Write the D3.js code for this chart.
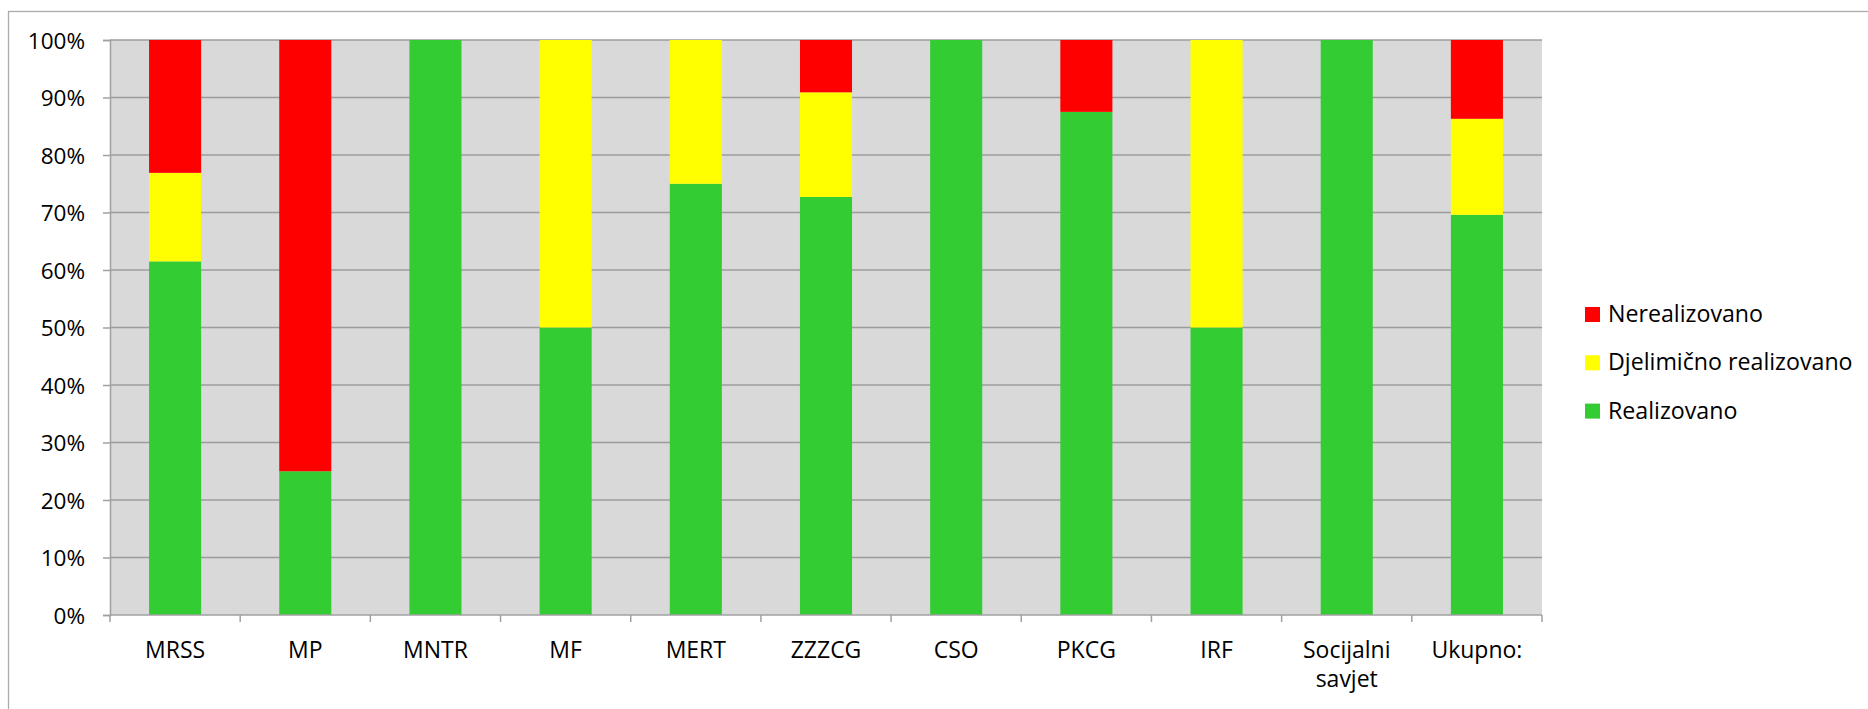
<!DOCTYPE html>
<html>
<head>
<meta charset="utf-8">
<script src="https://cdn.jsdelivr.net/npm/d3@7"></script>
<style>
  body { margin: 0; background: #fff; }
  svg { display: block; font-family: "Open Sans", "Noto Sans", sans-serif; }
</style>
</head>
<body>
<svg width="1868" height="709"></svg>
<script>
// Chart values (percent of measures per institution)
const categories = ["MRSS", "MP", "MNTR", "MF", "MERT", "ZZZCG", "CSO", "PKCG", "IRF", "Socijalni savjet", "Ukupno:"];
const realizovano = [61.5, 25, 100, 50, 75, 72.7, 100, 87.5, 50, 100, 69.6];
const djelimicno = [15.4, 0, 0, 50, 25, 18.2, 0, 0, 50, 0, 16.7];
const nerealizovano = [23.1, 75, 0, 0, 0, 9.1, 0, 12.5, 0, 0, 13.7];
const yTicks = [0, 10, 20, 30, 40, 50, 60, 70, 80, 90, 100];

const seriesKeys = ["Realizovano", "Djelimično realizovano", "Nerealizovano"];
const colors = { "Realizovano": "#33cc33", "Djelimično realizovano": "#ffff00", "Nerealizovano": "#ff0000" };

const rows = categories.map((c, i) => ({
    cat: c,
    "Realizovano": realizovano[i],
    "Djelimično realizovano": djelimicno[i],
    "Nerealizovano": nerealizovano[i]
}));

const svg = d3.select("svg");

// outer chart frame (runs past the right/bottom edges)
svg.append("rect")
    .attr("x", 8.5).attr("y", 11.5)
    .attr("width", 1900).attr("height", 800)
    .attr("fill", "none")
    .attr("stroke", "#ababab")
    .attr("stroke-width", 1.3);

const plot = { left: 110, top: 40, right: 1542, bottom: 615 };

const x = d3.scaleBand()
    .domain(categories)
    .range([plot.left, plot.right])
    .paddingInner(0.6)
    .paddingOuter(0.3);

const y = d3.scaleLinear()
    .domain([0, 100])
    .range([plot.bottom, plot.top]);

// plot background
svg.append("rect")
    .attr("x", plot.left).attr("y", plot.top)
    .attr("width", plot.right - plot.left)
    .attr("height", plot.bottom - plot.top)
    .attr("fill", "#d9d9d9");

// gridlines
svg.append("g")
    .selectAll("line")
    .data(yTicks.filter(d => d > 0))
    .enter()
    .append("line")
    .attr("x1", plot.left).attr("x2", plot.right)
    .attr("y1", d => y(d)).attr("y2", d => y(d))
    .attr("stroke", "#9c9c9c")
    .attr("stroke-width", 1.5);

// stacked bars
const stacked = d3.stack().keys(seriesKeys)(rows);

svg.append("g")
    .selectAll("g")
    .data(stacked)
    .enter()
    .append("g")
    .attr("fill", d => colors[d.key])
    .selectAll("rect")
    .data(d => d)
    .enter()
    .append("rect")
    .attr("x", d => x(d.data.cat))
    .attr("width", x.bandwidth())
    .attr("y", d => y(d[1]))
    .attr("height", d => y(d[0]) - y(d[1]));

// y axis
const yAxis = svg.append("g")
    .attr("transform", `translate(${plot.left},0)`)
    .call(d3.axisLeft(y).tickValues(yTicks).tickSize(7).tickPadding(18).tickFormat(d => d + "%"));
yAxis.select(".domain").attr("stroke", "#a0a0a0").attr("stroke-width", 1.5);
yAxis.selectAll(".tick line").attr("stroke", "#a0a0a0").attr("stroke-width", 1.5);
yAxis.selectAll(".tick text")
    .attr("font-size", "22.5px")
    .attr("font-family", "'Open Sans', 'Noto Sans', sans-serif")
    .attr("fill", "#000")
    .attr("dy", "0.36em");

// x axis line and boundary ticks
const step = x.step();
const boundaries = categories.map(c => x(c) - x.paddingOuter() * step).concat([plot.right]);

svg.append("line")
    .attr("x1", plot.left).attr("x2", plot.right)
    .attr("y1", plot.bottom).attr("y2", plot.bottom)
    .attr("stroke", "#a0a0a0").attr("stroke-width", 1.5);

svg.append("g")
    .selectAll("line")
    .data(boundaries)
    .enter()
    .append("line")
    .attr("x1", d => d).attr("x2", d => d)
    .attr("y1", plot.bottom).attr("y2", plot.bottom + 7)
    .attr("stroke", "#a0a0a0").attr("stroke-width", 1.5);

// category labels (wrap multi-word labels)
const xLabels = svg.append("g")
    .selectAll("text")
    .data(categories)
    .enter()
    .append("text")
    .attr("x", d => x(d) + x.bandwidth() / 2)
    .attr("y", 658)
    .attr("text-anchor", "middle")
    .attr("font-size", "23px")
    .attr("fill", "#000");

xLabels.each(function (d) {
    const words = d.split(" ");
    const t = d3.select(this);
    words.forEach((w, i) => {
        t.append("tspan")
            .attr("x", x(d) + x.bandwidth() / 2)
            .attr("dy", i === 0 ? 0 : 29)
            .text(w);
    });
});

// legend
const legendKeys = ["Nerealizovano", "Djelimično realizovano", "Realizovano"];
const legend = svg.append("g")
    .selectAll("g")
    .data(legendKeys)
    .enter()
    .append("g")
    .attr("transform", (d, i) => `translate(1585,${307 + i * 48.3})`);

legend.append("rect")
    .attr("width", 15).attr("height", 15)
    .attr("fill", d => colors[d]);

legend.append("text")
    .attr("x", 23)
    .attr("y", 15)
    .attr("font-size", "23.2px")
    .attr("fill", "#000")
    .text(d => d);
</script>
</body>
</html>
